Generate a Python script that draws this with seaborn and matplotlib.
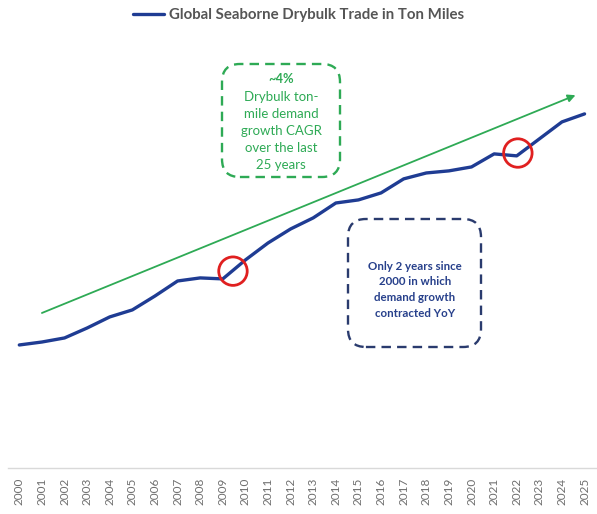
import matplotlib
matplotlib.use("Agg")
import matplotlib.pyplot as plt
from matplotlib.patches import FancyBboxPatch
import seaborn as sns
import pandas as pd

# Global seaborne drybulk trade, trillion ton-miles
years = list(range(2000, 2026))
ton_miles = [10.00, 10.24, 10.57, 11.38, 12.28, 12.85, 13.98, 15.20, 15.45, 15.37,
             16.91, 18.29, 19.43, 20.33, 21.54, 21.79, 22.36, 23.50, 23.98, 24.15,
             24.47, 25.53, 25.37, 26.75, 28.13, 28.78]
year_labels = [str(y) for y in years]

# ~4% CAGR trend arrow (start / end)
trend_years = [2001.0, 2024.6]
trend_vals = [12.6, 30.3]

# Years where demand contracted YoY (highlight circles)
circle_years = [2009.45, 2022.05]
circle_vals = [16.0, 25.6]

W, H, DPI = 597, 514, 100
sns.set_theme(style="white")
plt.rcParams["font.family"] = ["Lato", "DejaVu Sans"]

fig = plt.figure(figsize=(W / DPI, H / DPI), dpi=DPI)
ax = fig.add_axes([8 / W, (H - 468) / H, (W - 8) / W, (468 - 30) / H])

df = pd.DataFrame({"Year": years, "TonMiles": ton_miles})
sns.lineplot(data=df, x="Year", y="TonMiles", ax=ax, color="#1f3c93", lw=2.4,
             label="Global Seaborne Drybulk Trade in Ton Miles")

ax.set_xlim(1999.5, 2025.55)
ax.set_ylim(0, 35.6)
ax.set_xticks(years)
ax.set_xticklabels(year_labels, rotation=90, fontsize=8.5, color="#6e6e6e")
ax.set_yticks([])
ax.set_xlabel("")
ax.set_ylabel("")
ax.tick_params(axis="x", length=0, pad=7)
for side in ["top", "right", "left"]:
    ax.spines[side].set_visible(False)
ax.spines["bottom"].set_color("#d9d9d9")
ax.spines["bottom"].set_linewidth(1.0)

# Trend arrow
ax.annotate("", xy=(trend_years[1], trend_vals[1]), xytext=(trend_years[0], trend_vals[0]),
            arrowprops=dict(arrowstyle="-|>", color="#2eaa55", lw=1.3,
                            mutation_scale=11, shrinkA=0, shrinkB=0))

# Contraction highlights
ax.scatter(circle_years, circle_vals, s=420, facecolors="none",
           edgecolors="#e02020", linewidths=2.0, zorder=5)

leg = ax.legend(loc="upper center", bbox_to_anchor=(0.5 - 4 / W, 1.08), frameon=False,
                handlelength=2.1, handletextpad=0.3, prop={"weight": "bold", "size": 10.8})
for t in leg.get_texts():
    t.set_color("#555555")


def fx(px):
    return px / W


def fy(py):
    return 1 - py / H


def dashed_box(x0, y0, x1, y1, color):
    box = FancyBboxPatch((fx(x0), fy(y1)), fx(x1) - fx(x0), fy(y0) - fy(y1),
                         boxstyle="round,pad=0,rounding_size=0.03",
                         transform=fig.transFigure, facecolor="none",
                         edgecolor=color, lw=1.7, linestyle=(0, (4, 2.6)),
                         mutation_aspect=W / H)
    fig.add_artist(box)


# CAGR call-out
green = "#2eaa55"
dashed_box(222, 64, 340, 177, green)
fig.text(fx(281), fy(79), "~4%", ha="center", va="center", color=green,
         fontsize=9.3, fontweight="bold")
for i, line in enumerate(["Drybulk ton-", "mile demand", "growth CAGR",
                          "over the last", "25 years"]):
    fig.text(fx(281), fy(97 + 17 * i), line, ha="center", va="center",
             color=green, fontsize=9.5)

# Contraction call-out
navy = "#2a3b6e"
dashed_box(348, 219, 481, 347, navy)
for i, line in enumerate(["Only 2 years since", "2000 in which",
                          "demand growth", "contracted YoY"]):
    fig.text(fx(415), fy(266 + 15.7 * i), line, ha="center", va="center",
             color="#27408b", fontsize=8.3, fontweight="bold")

fig.savefig("out.png", dpi=DPI)
